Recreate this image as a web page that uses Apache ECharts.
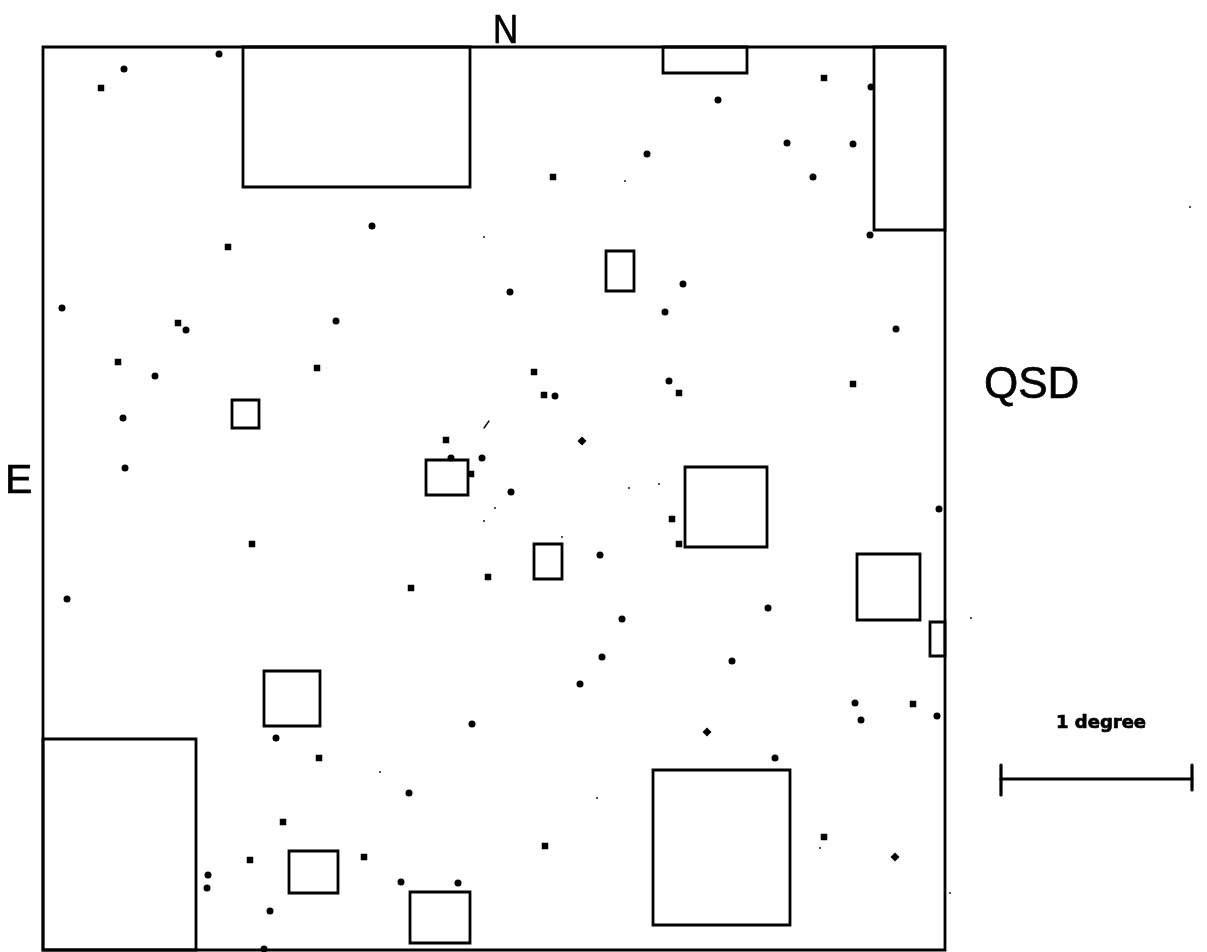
<!DOCTYPE html>
<html>
<head>
<meta charset="utf-8">
<title>QSD field</title>
<script src="https://cdnjs.cloudflare.com/ajax/libs/echarts/6.0.0/echarts.min.js"></script>
<style>
  html, body { margin: 0; padding: 0; background: #fff; }
  #chart { width: 1207px; height: 952px; }
</style>
</head>
<body>
<div id="chart"></div>
<script>
var roundDots = [
  [124,69],[219,54],[871,87],[718,100],[787,143],[853,144],[647,154],[813,177],
  [372,226],[870,235],[510,292],[683,284],[665,312],[62,308],[186,330],[336,321],
  [896,329],[155,376],[669,381],[555,396],[123,418],[451,458],[482,458],[125,468],
  [511,492],[939,509],[600,555],[67,599],[768,608],[622,619],[602,657],[732,661],
  [580,684],[855,703],[937,716],[861,720],[472,724],[276,738],[775,758],[409,793],
  [208,875],[207,888],[401,882],[458,883],[270,911],[264,949]
];
var squareDots = [
  [101,88],[824,78],[553,177],[228,247],[178,323],[118,362],[317,368],[534,372],
  [853,384],[679,393],[544,395],[446,440],[471,474],[672,519],[679,544],[252,544],
  [488,577],[411,588],[913,704],[319,758],[283,822],[824,837],[545,846],[250,860],
  [364,857]
];
var diamondDots = [[582,441],[707,732],[895,857]];
var specks = [
  [625,181],[484,237],[495,508],[562,537],[629,488],[659,484],[380,772],[597,798],
  [820,848],[1190,207],[971,618],[950,893],[484,521]
];
// x0, y0, x1, y1
var boxes = [
  [243,47,470,187],[663,47,747,73],[874,47,945,230],[606,251,634,291],
  [232,400,259,428],[426,460,468,495],[685,467,767,547],[534,544,562,579],
  [857,554,920,620],[930,622,945,656],[264,671,320,726],[43,739,196,950],
  [653,770,790,925],[289,851,338,893],[410,892,470,943]
];
// x0, y0, x1, y1
var scaleBar = [
  [1001,779,1192,779],[1001,765,1001,795],[1192,765,1192,790]
];
var strokes = [[484,428,489,421]];

var INK = '#000';

function renderBox(params, api) {
  var a = api.coord([api.value(0), api.value(1)]);
  var b = api.coord([api.value(2), api.value(3)]);
  return {
    type: 'rect',
    shape: { x: a[0], y: a[1], width: b[0] - a[0], height: b[1] - a[1] },
    style: { fill: 'none', stroke: INK, lineWidth: 2.8 }
  };
}

function renderSegment(width) {
  return function (params, api) {
    var a = api.coord([api.value(0), api.value(1)]);
    var b = api.coord([api.value(2), api.value(3)]);
    return {
      type: 'line',
      shape: { x1: a[0], y1: a[1], x2: b[0], y2: b[1] },
      style: { stroke: INK, lineWidth: width, lineCap: 'round' }
    };
  };
}

function dotSeries(data, symbol, size) {
  return {
    type: 'scatter',
    data: data,
    symbol: symbol,
    symbolSize: size,
    clip: false,
    silent: true,
    itemStyle: { color: INK, opacity: 1 }
  };
}

function label(text, x, y, font, size, weight, squeeze) {
  return {
    type: 'text',
    x: x,
    y: y,
    scaleX: squeeze || 1,
    style: {
      text: text,
      fill: INK,
      stroke: INK,
      lineWidth: 0.7,
      fontFamily: font,
      fontSize: size,
      fontWeight: weight || 'normal',
      textVerticalAlign: 'middle',
      textAlign: 'left'
    }
  };
}

var chart = echarts.init(document.getElementById('chart'), null, { renderer: 'canvas' });
chart.setOption({
  backgroundColor: '#fff',
  animation: false,
  grid: {
    show: true,
    left: 43,
    top: 47,
    width: 902,
    height: 903,
    backgroundColor: 'transparent',
    borderColor: INK,
    borderWidth: 2.8
  },
  xAxis: { type: 'value', min: 43, max: 945, show: false },
  yAxis: { type: 'value', min: 47, max: 950, inverse: true, show: false },
  series: [
    { type: 'custom', data: boxes, renderItem: renderBox, clip: false, silent: true },
    { type: 'custom', data: scaleBar, renderItem: renderSegment(3.2), clip: false, silent: true },
    { type: 'custom', data: strokes, renderItem: renderSegment(1.4), clip: false, silent: true },
    dotSeries(roundDots, 'circle', 7),
    dotSeries(squareDots, 'rect', 6.5),
    dotSeries(diamondDots, 'diamond', 9),
    dotSeries(specks, 'circle', 1.8)
  ],
  graphic: [
    label('N', 493, 32, '"Liberation Sans", Arial, sans-serif', 41, 'normal', 0.85),
    label('E', 5, 482, '"Liberation Sans", Arial, sans-serif', 41, 'normal', 1),
    label('QSD', 984, 386, '"Liberation Sans", Arial, sans-serif', 44),
    label('1 degree', 1056, 723, '"DejaVu Sans", sans-serif', 18, 'bold')
  ]
});
</script>
</body>
</html>
